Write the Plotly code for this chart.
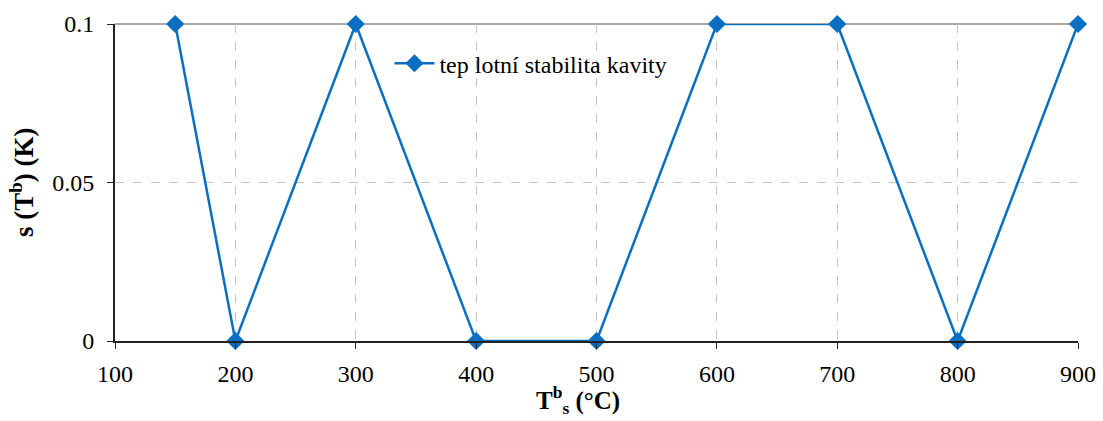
import plotly.graph_objects as go

temps = [150, 200, 300, 400, 500, 600, 700, 800, 900]
stability = [0.1, 0, 0.1, 0, 0, 0.1, 0.1, 0, 0.1]
x_ticks = [100, 200, 300, 400, 500, 600, 700, 800, 900]
y_ticks = [0, 0.05, 0.1]
y_tick_labels = ["0", "0.05", "0.1"]

color = "#0A6FC2"
font = "Times New Roman"

fig = go.Figure()
fig.add_trace(go.Scatter(
    x=temps, y=stability, mode="lines+markers",
    name="tep lotní stabilita kavity",
    line=dict(color=color, width=2.5),
    marker=dict(symbol="diamond", size=14, color=color),
))

fig.update_layout(
    width=1103, height=421,
    margin=dict(l=115, r=25, t=24, b=80),
    paper_bgcolor="white", plot_bgcolor="white",
    font=dict(family=font, size=24, color="black"),
    showlegend=True,
    legend=dict(x=0.285, y=0.875, xanchor="left", yanchor="middle",
                bgcolor="rgba(0,0,0,0)", font=dict(size=24, family=font),
                itemwidth=40),
    xaxis=dict(
        range=[100, 900], tickvals=x_ticks, automargin=False,
        showgrid=True, gridcolor="#C4C4C4", griddash="dash", gridwidth=1,
        showline=True, linecolor="#222222", linewidth=2,
        ticks="outside", ticklen=6, tickcolor="#222222",
        ticklabelstandoff=4,
        tickfont=dict(size=24, family=font),
        zeroline=False,
    ),
    yaxis=dict(
        range=[0, 0.1], tickvals=y_ticks, ticktext=y_tick_labels, automargin=False,
        showgrid=True, gridcolor="#C4C4C4", griddash="dash", gridwidth=1,
        showline=True, linecolor="#222222", linewidth=2,
        ticks="outside", ticklen=6, tickcolor="#222222",
        ticklabelstandoff=8,
        tickfont=dict(size=24, family=font),
        zeroline=False,
    ),
    annotations=[
        dict(text="<b>T<sup>b</sup><sub>s</sub> (°C)</b>", xref="paper", yref="paper",
             x=0.481, y=-0.25, xanchor="center", yanchor="bottom", showarrow=False,
             font=dict(size=25, family=font)),
        dict(text="<b>s (T<sup>b</sup>) (K)</b>", xref="paper", yref="paper",
             x=-0.097, y=0.5, xanchor="center", yanchor="middle", showarrow=False,
             textangle=-90, font=dict(size=27, family=font)),
    ],
    shapes=[dict(type="line", xref="paper", yref="paper", x0=0, x1=1, y0=1, y1=1,
                 line=dict(color="#8C8C8C", width=1.5), layer="below")],
)
fig.update_traces(cliponaxis=False)

fig.write_html("out.html")
